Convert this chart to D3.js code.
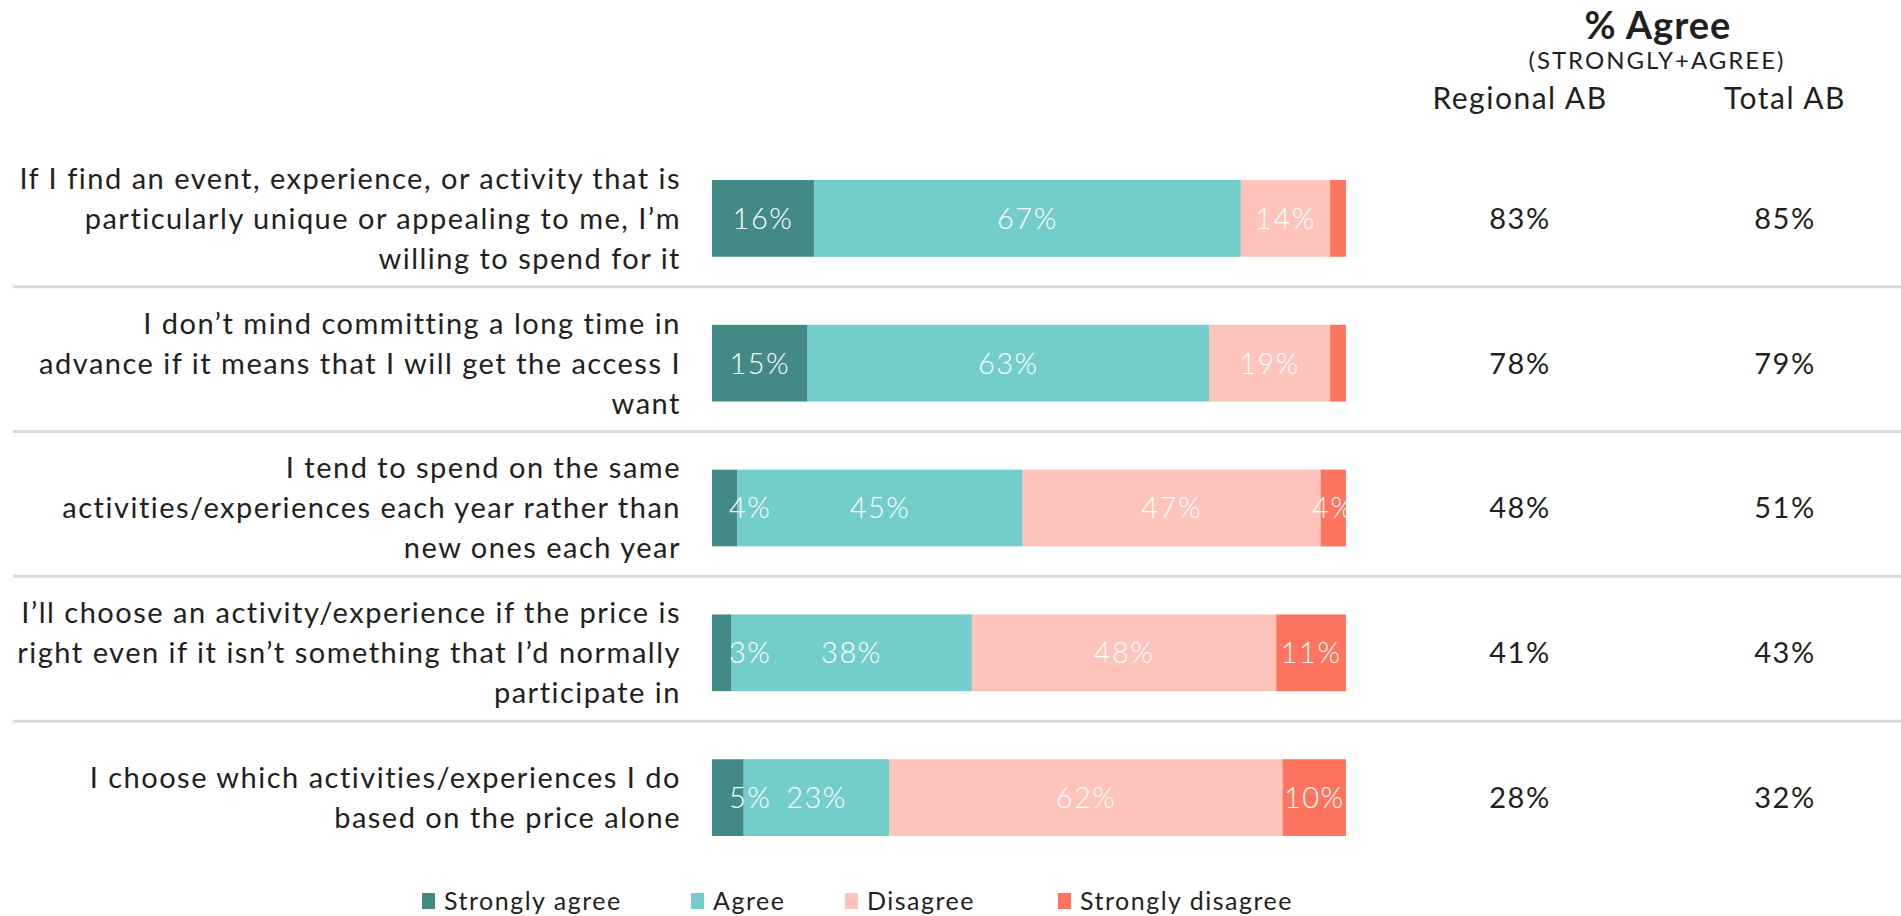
<!DOCTYPE html>
<html>
<head>
<meta charset="utf-8">
<script src="https://cdn.jsdelivr.net/npm/d3@7"></script>
<style>
  html, body { margin: 0; padding: 0; background: #fff; overflow: hidden; }
  svg { display: block; font-family: "Lato", "Noto Sans", sans-serif; }
</style>
</head>
<body>
<div id="chart"></div>
<script>
var statements = [
  ["If I find an event, experience, or activity that is", "particularly unique or appealing to me, I\u2019m", "willing to spend for it"],
  ["I don\u2019t mind committing a long time in", "advance if it means that I will get the access I", "want"],
  ["I tend to spend on the same", "activities/experiences each year rather than", "new ones each year"],
  ["I\u2019ll choose an activity/experience if the price is", "right even if it isn\u2019t something that I\u2019d normally", "participate in"],
  ["I choose which activities/experiences I do", "based on the price alone"]
];
var seriesNames = ["Strongly agree", "Agree", "Disagree", "Strongly disagree"];
var strongAgree = [16, 15, 4, 3, 5];
var agree = [67, 63, 45, 38, 23];
var disagree = [14, 19, 47, 48, 62];
var strongDisagree = [2.5, 2.5, 4, 11, 10];
var regionalAB = [83, 78, 48, 41, 28];
var totalAB = [85, 79, 51, 43, 32];
var colors = ["#438985", "#73cdca", "#fec4bb", "#ff745f"];

var width = 1901, height = 916;
var textColor = "#231f20";

var svg = d3.select("#chart").append("svg")
    .attr("width", width)
    .attr("height", height)
    .style("letter-spacing", "1.5px");

var rows = statements.map(function(s, i) {
  return {i: i, vals: [strongAgree[i], agree[i], disagree[i], strongDisagree[i]]};
});

var x = d3.scaleLinear()
    .domain([0, 100])
    .range([712, 1346]);

var y = d3.scaleBand()
    .domain(d3.range(statements.length))
    .range([146, 870])
    .paddingInner(0.47)
    .paddingOuter(0.235);

var cols = d3.scalePoint()
    .domain(["Regional AB", "Total AB"])
    .range([1520, 1785]);

//separators between rows
svg.selectAll("line.sep")
  .data(d3.range(statements.length - 1))
  .enter()
  .append("line")
  .attr("class", "sep")
  .attr("x1", 13)
  .attr("x2", width)
  .attr("y1", function(d) { return y(d) + y.bandwidth() + 30; })
  .attr("y2", function(d) { return y(d) + y.bandwidth() + 30; })
  .attr("stroke", "#d9d9d9")
  .attr("stroke-width", 3);

svg.append("clipPath")
  .attr("id", "barclip")
  .append("rect")
  .attr("x", x(0))
  .attr("y", 0)
  .attr("width", x(100) - x(0))
  .attr("height", height);

//stacked segments, each row stretched to 100%
var segs = [];
rows.forEach(function(r) {
  var total = d3.sum(r.vals);
  var acc = 0;
  r.vals.forEach(function(v, k) {
    segs.push({row: r.i, k: k, x0: acc / total * 100, x1: (acc + v) / total * 100, v: v});
    acc += v;
  });
});

var bars = svg.append("g").attr("clip-path", "url(#barclip)");

bars.selectAll("rect")
  .data(segs)
  .enter()
  .append("rect")
  .attr("x", function(d) { return x(d.x0); })
  .attr("y", function(d) { return y(d.row); })
  .attr("width", function(d) { return x(d.x1) - x(d.x0); })
  .attr("height", y.bandwidth())
  .style("fill", function(d) { return colors[d.k]; });

var labels = bars.selectAll("text")
  .data(segs.filter(function(d) { return d.v >= 3; }))
  .enter()
  .append("text")
  .attr("text-anchor", "middle")
  .attr("dy", "0.36em")
  .attr("y", function(d) { return y(d.row) + y.bandwidth() / 2; })
  .style("font-size", "29px")
  .style("font-weight", 300)
  .style("fill", "#fff")
  .text(function(d) { return d.v + "%"; });

//keep small labels at the left off the bar edge
labels.attr("x", function(d) {
  var w = this.getComputedTextLength();
  var cx = (x(d.x0) + x(d.x1)) / 2;
  return Math.max(cx, x(0) + 17 + w / 2);
});

//statement labels
var stmt = svg.selectAll("text.stmt")
  .data(statements)
  .enter()
  .append("text")
  .attr("class", "stmt")
  .attr("text-anchor", "end")
  .style("font-size", "29px")
  .style("fill", textColor);

stmt.each(function(lines, i) {
  var cy = y(i) + y.bandwidth() / 2;
  var lh = 40;
  var top = cy - (lines.length - 1) * lh / 2;
  d3.select(this).selectAll("tspan")
    .data(lines)
    .enter()
    .append("tspan")
    .attr("x", 681)
    .attr("y", function(l, j) { return top + j * lh; })
    .attr("dy", "0.36em")
    .text(function(l) { return l; });
});

//% agree columns
[regionalAB, totalAB].forEach(function(arr, c) {
  var cx = cols(cols.domain()[c]);
  svg.selectAll("text.col" + c)
    .data(arr)
    .enter()
    .append("text")
    .attr("class", "col" + c)
    .attr("x", cx)
    .attr("y", function(d, i) { return y(i) + y.bandwidth() / 2; })
    .attr("dy", "0.36em")
    .attr("text-anchor", "middle")
    .style("font-size", "29px")
    .style("fill", textColor)
    .text(function(d) { return d + "%"; });
});

svg.append("text")
  .attr("x", 1658)
  .attr("y", 25)
  .attr("dy", "0.36em")
  .attr("text-anchor", "middle")
  .style("font-size", "38px")
  .style("font-weight", 700)
  .style("letter-spacing", "1px")
  .style("fill", textColor)
  .text("% Agree");

svg.append("text")
  .attr("x", 1657)
  .attr("y", 60)
  .attr("dy", "0.36em")
  .attr("text-anchor", "middle")
  .style("font-size", "24px")
  .style("letter-spacing", "2px")
  .style("fill", textColor)
  .text("(STRONGLY+AGREE)");

svg.selectAll("text.colhead")
  .data(cols.domain())
  .enter()
  .append("text")
  .attr("class", "colhead")
  .attr("x", function(d) { return cols(d); })
  .attr("y", 98)
  .attr("dy", "0.36em")
  .attr("text-anchor", "middle")
  .style("font-size", "30px")
  .style("fill", textColor)
  .text(function(d) { return d; });

//legend
var legendX = [422, 691, 845, 1058];
var legend = svg.selectAll("g.legend")
  .data(seriesNames)
  .enter()
  .append("g")
  .attr("class", "legend")
  .attr("transform", function(d, i) { return "translate(" + legendX[i] + ",901)"; });

legend.append("rect")
  .attr("x", 0)
  .attr("y", -8)
  .attr("width", 13)
  .attr("height", 16)
  .style("fill", function(d, i) { return colors[i]; });

legend.append("text")
  .attr("x", 22)
  .attr("dy", "0.36em")
  .style("font-size", "25px")
  .style("fill", textColor)
  .text(function(d) { return d; });
</script>
</body>
</html>
